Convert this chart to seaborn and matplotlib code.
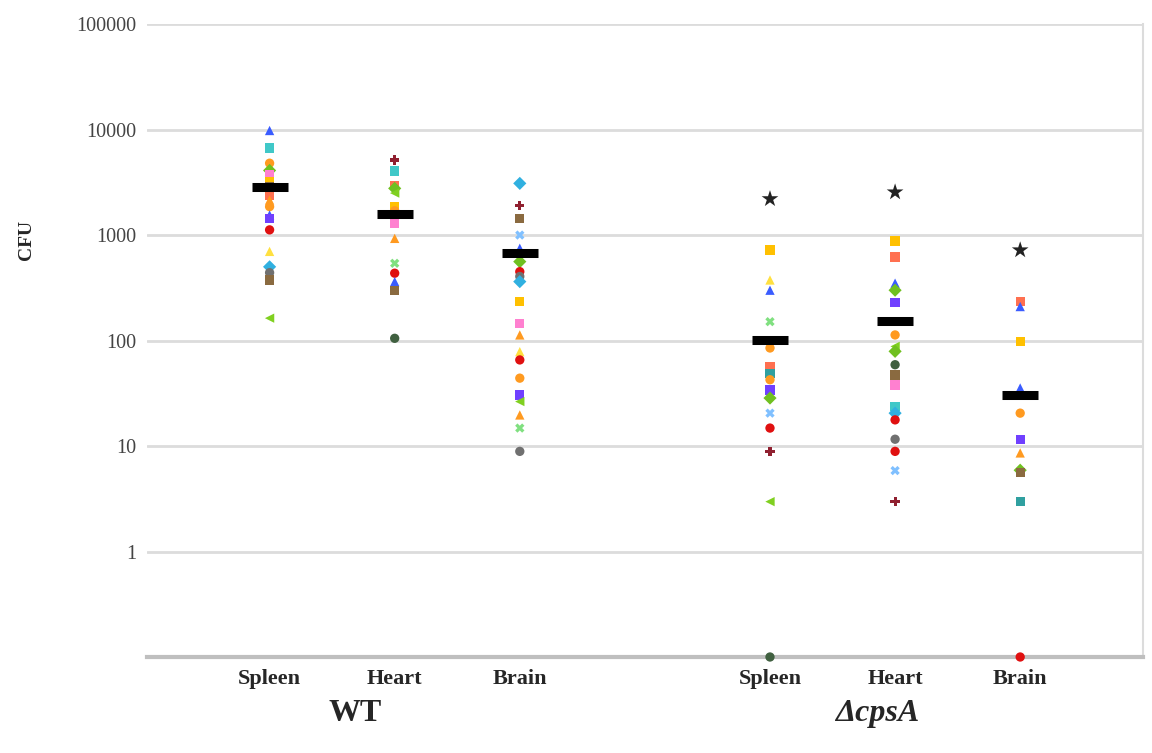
import matplotlib
matplotlib.use("Agg")
import matplotlib.pyplot as plt
import pandas as pd
import seaborn as sns

# slot order on the x axis (blank slot makes the gap between strains)
slots = ["WT Spleen", "WT Heart", "WT Brain", "", "cpsA Spleen", "cpsA Heart", "cpsA Brain"]
organ_labels = ["Spleen", "Heart", "Brain", "", "Spleen", "Heart", "Brain"]
strain_labels = ["WT", "ΔcpsA"]

# CFU per mouse (0.1 = zero count, drawn on the axis floor)
wt_spleen = [9800, 6700, 4800, 4100, 3700, 3200, 2900, 2400, 2150, 1860, 1550, 1440, 1120, 700, 500, 440, 375, 163]
wt_spleen_mouse = [0, 1, 2, 4, 6, 3, 13, 11, 15, 2, 0, 7, 5, 16, 18, 9, 13, 19]
wt_heart = [5150, 4050, 2970, 2770, 2500, 1860, 1700, 1290, 930, 540, 435, 362, 300, 105]
wt_heart_mouse = [8, 1, 11, 4, 19, 3, 2, 6, 15, 14, 5, 0, 13, 17]
wt_brain = [3090, 1900, 1440, 1000, 750, 560, 450, 405, 362, 235, 146, 113, 78.5, 65.5, 44, 30.5, 26.4, 19.7, 14.8, 8.9]
wt_brain_mouse = [18, 8, 13, 10, 0, 4, 5, 9, 18, 3, 6, 15, 16, 5, 2, 7, 19, 15, 14, 9]
cps_spleen = [720, 375, 300, 151, 85, 56.5, 49, 42.5, 34, 28.5, 20.5, 14.8, 8.9, 2.97, 0.1]
cps_spleen_mouse = [3, 16, 0, 14, 2, 11, 12, 2, 7, 4, 10, 5, 8, 19, 17]
cps_heart = [880, 620, 350, 300, 230, 113, 88, 79, 59, 47, 38, 23.6, 20.5, 17.7, 11.6, 8.9, 5.85, 2.97]
cps_heart_mouse = [3, 11, 0, 4, 7, 2, 19, 4, 17, 13, 6, 1, 18, 5, 9, 5, 10, 8]
cps_brain = [234, 210, 98, 35.5, 20.5, 11.6, 8.6, 5.9, 5.6, 2.97, 0.1]
cps_brain_mouse = [11, 0, 3, 0, 2, 7, 15, 4, 13, 12, 5]

group_medians = [2880, 1590, 675, 101, 152, 30.5]
star_values = [2200, 2550, 720]  # significance stars over the ΔcpsA groups

mouse_colors = ["#3a5cff", "#40c8c8", "#ff9a20", "#ffc000", "#70c020", "#e01010",
                "#ff80d0", "#7040ff", "#902030", "#707070", "#80c0ff", "#ff7050",
                "#30a0a0", "#8a6a40", "#80e080", "#ff9a20", "#ffe040", "#406040",
                "#30b0e0", "#80d020"]
mouse_markers = ["^", "s", "o", "s", "D", "o", "s", "s", "P", "o",
                 "X", "s", "s", "s", "X", "^", "^", "o", "D", "<"]

groups = [("WT Spleen", wt_spleen, wt_spleen_mouse), ("WT Heart", wt_heart, wt_heart_mouse),
          ("WT Brain", wt_brain, wt_brain_mouse), ("cpsA Spleen", cps_spleen, cps_spleen_mouse),
          ("cpsA Heart", cps_heart, cps_heart_mouse), ("cpsA Brain", cps_brain, cps_brain_mouse)]
rows = []
for name, vals, mice in groups:
    for v, m in zip(vals, mice):
        rows.append({"x": slots.index(name), "cfu": v, "mouse": m})
df = pd.DataFrame(rows)
med = pd.DataFrame({"x": [slots.index(g[0]) for g in groups], "cfu": group_medians})
stars = pd.DataFrame({"x": [slots.index(s) for s in slots[4:]], "cfu": star_values})

sns.set_style("white")
plt.rcParams["font.family"] = ["Liberation Serif", "DejaVu Serif"]

fig = plt.figure(figsize=(11.52, 7.53), dpi=100)
ax = fig.add_axes([0.1276, 0.1275, 0.8644, 0.8405])
ax.set_yscale("log")

sns.scatterplot(data=df, x="x", y="cfu", hue="mouse", style="mouse",
                palette=dict(enumerate(mouse_colors)), markers=dict(enumerate(mouse_markers)),
                s=45, edgecolor="none", legend=False, clip_on=False, zorder=3, ax=ax)
sns.scatterplot(data=med, x="x", y="cfu", marker="_", s=700, linewidth=6.5,
                color="black", legend=False, zorder=4, ax=ax)
sns.scatterplot(data=stars, x="x", y="cfu", marker="*", s=160, color="#222222",
                edgecolor="none", legend=False, zorder=4, ax=ax)

ax.set_ylim(0.1, 100000)
ax.set_xlim(-0.98, 6.98)
ax.set_yticks([1, 10, 100, 1000, 10000, 100000])
ax.set_yticklabels(["1", "10", "100", "1000", "10000", "100000"], color="#444444", fontsize=14.5)
ax.minorticks_off()
ax.set_xticks(range(len(slots)))
ax.set_xticklabels(organ_labels, fontsize=16, fontweight="bold")
ax.tick_params(axis="both", length=0)
ax.tick_params(axis="x", pad=9)
ax.tick_params(axis="y", pad=8)
ax.grid(axis="y", color="#dcdcdc", linewidth=2)
ax.set_axisbelow(True)
ax.set_xlabel("")
ax.set_ylabel("")

for side in ["left", "top"]:
    ax.spines[side].set_visible(False)
ax.spines["right"].set_color("#dcdcdc")
ax.spines["right"].set_linewidth(1.5)
ax.spines["bottom"].set_color("#bfbfbf")
ax.spines["bottom"].set_linewidth(3)

fig.text(27 / 1152, 1 - 240 / 753, "CFU", rotation=90, fontsize=14, fontweight="bold",
         ha="center", va="center")
ax.text(0.68, -0.09, strain_labels[0], transform=ax.get_xaxis_transform(),
        fontsize=23, fontweight="bold", ha="center", va="center")
ax.text(4.86, -0.09, strain_labels[1], transform=ax.get_xaxis_transform(),
        fontsize=23, fontweight="bold", style="italic", ha="center", va="center")

fig.savefig("out.png", dpi=100)
